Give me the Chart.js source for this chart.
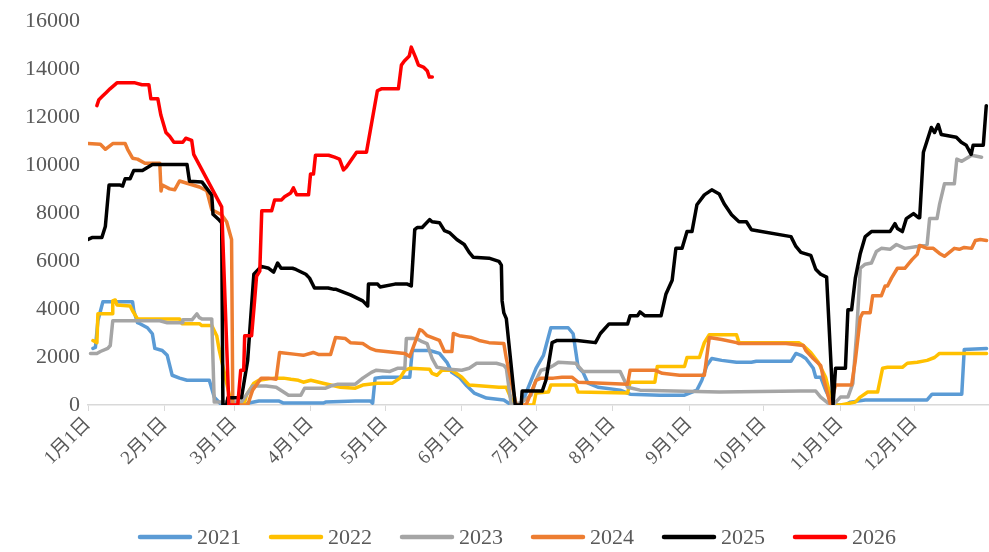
<!DOCTYPE html>
<html>
<head>
<meta charset="utf-8">
<script src="https://cdn.jsdelivr.net/npm/chart.js@4.4.1/dist/chart.umd.min.js"></script>
<style>
html,body{margin:0;padding:0;background:#fff;}
#wrap{width:989px;height:552px;position:relative;}
</style>
</head>
<body>
<div id="wrap"><canvas id="c" width="989" height="552"></canvas></div>
<script>
// x positions are day-of-year (0 = 1月1日)
const monthDays = [0,31,59,90,120,151,181,212,243,273,304,334];
const monthLabels = ["1月1日","2月1日","3月1日","4月1日","5月1日","6月1日","7月1日","8月1日","9月1日","10月1日","11月1日","12月1日"];
const yTicks = [0,2000,4000,6000,8000,10000,12000,14000,16000];
const seriesNames = ["2021","2022","2023","2024","2025","2026"];

const days2021 = [2,3,4,6,18,18.5,20,21,24,26,27,30,32,34,37,40,49,51,54,62,65,69,77,79,95,96,108,114,115,116,119,130,131,138,142,145,147,150,153,156,161,168,171,175,181,184,187,194,196,198,200,202,206,215,219,231,241,246,248,250,252,256,262,268,270,284,286,288,290,293,294,296,298,301,306,308,314,339,341,353,354,363];
const vals2021 = [2360,2400,3510,4300,4300,3930,3430,3390,3220,2970,2360,2270,2070,1240,1120,1030,1030,330,0,0,80,170,170,80,80,120,170,170,80,1120,1160,1160,2270,2270,2150,1780,1360,1160,800,500,290,210,0,0,1530,2070,3220,3220,2970,1570,1360,910,740,620,450,410,410,620,1030,1650,1940,1860,1780,1780,1820,1820,2150,2070,1940,1530,1160,1160,620,0,0,120,210,210,450,450,2310,2360];

const days2022 = [2,3.6,4,9.7,10,11,11.7,17,18,20,37,38,45,46,50,52,53,58,63,64,67,69,75,79,82,85,87,90,95,102,108,111,117,123,126,128,130,138,139,141,143,147,151,154,166,169,172,180,181,186,187,197,198,218,219,229,230,241,242,247,249,251,262,263,287,289,292,295,298,300,301,304,310,312,315,319,321,323,329,331,335,339,342,344,363];
const vals2022 = [2690,2600,3800,3800,4340,4380,4170,4130,3930,3590,3590,3390,3390,3310,3310,2890,2300,0,0,410,910,1030,1120,1120,1070,1030,950,1030,910,740,700,830,910,910,1120,1450,1530,1490,1320,1240,1450,1450,1160,830,740,740,0,0,500,540,830,830,540,500,950,950,1610,1610,1980,1980,2600,2930,2930,2600,2600,2480,2190,1780,1160,330,0,0,120,330,540,540,1530,1570,1570,1740,1780,1860,1980,2150,2150];

const days2023 = [1,3.6,5,8,9,10,29,32,38,38.3,42,44,45,46,50,51,62,64.5,66.5,72,76,79,81,86,87.5,96,98,101,108,111,114.5,116.5,122,125,128,128.6,132.7,135,137,139,141,146,151,154,157,165,168,169,171,175,179,181,183,186,188,190,197,200,215,218,223,255,288,294,296,299,301,304,307,309,310.5,312,314,316.5,318.5,320.5,324,326.6,330,335,339,340,343,344,346,350,351,353,357,361];
const vals2023 = [2150,2150,2230,2360,2480,3510,3510,3430,3430,3550,3550,3800,3640,3590,3590,120,120,500,790,790,740,540,410,410,700,700,790,870,870,1120,1360,1450,1400,1530,1530,2770,2770,2640,2560,1940,1570,1490,1450,1530,1740,1740,1650,1530,0,100,410,1030,1450,1530,1650,1780,1740,1400,1400,740,620,540,580,580,330,80,0,330,330,900,2970,5700,5870,5920,6400,6530,6490,6690,6530,6610,6690,7770,7770,8350,9220,9220,10250,10160,10410,10330];

const days2024 = [0,5,7,10,15,16,18,20,23,29,29.5,30,33,35,37,45,48,50,54,56,58,58.5,64.5,66.5,70,73,76,77.4,84,87,91,93,98,100,104,106,111,114,116.5,128,130,134,135,137,142,144,147,147.6,150,155,158,162,168,169,173,177,181,183,188,191.5,195.5,198,218,219,229,232,239,249,251,256,262,263,282,289,290,293,296,297,300,302,308.5,310,312,313,316,317,320.5,322,323,324.6,327,330,333,335,336,339,341.5,344,346,350,352,354,357,358.5,360.5,363];
const vals2024 = [10900,10870,10660,10900,10900,10660,10290,10250,10080,10080,8920,9170,9010,8970,9340,9090,8930,8140,7930,7640,6900,0,0,620,1120,1120,1070,2190,2110,2070,2190,2110,2110,2810,2770,2600,2560,2360,2270,2150,2020,3140,3100,2890,2690,2230,2230,2980,2890,2810,2690,2600,2560,1940,0,0,1030,1120,1120,1160,1160,950,870,1450,1450,1320,1240,1240,2810,2730,2600,2560,2560,2480,2270,1940,1650,1160,0,830,830,1860,3640,3850,3850,4550,4550,4960,4960,5290,5700,5700,6070,6280,6650,6530,6530,6320,6200,6530,6490,6570,6530,6860,6900,6860];

const days2025 = [0,1.6,5.6,7,8.5,13,14,15,17,18.5,22,26,40,41,46,50,50.5,53,54,54.5,56,56.5,62,64.5,67,70,73,75,76.6,78,82.6,84,88,89.5,91.5,97,99,100,106,111,113,113.3,117,118,124,129,130.6,132,133,135,138,139,142,144,146,149,152,154,155.6,162,166,167,167.3,168,169,172.6,175,175.4,183.5,185,187.5,189.5,197.6,205,207,210.5,218,219,222,223,225,231.5,233.5,236,237.5,240,242,244,246,249,252,255,257,260,263,266,268,284,286,288,292,294,296,298.4,301,302,306,307,308.5,310,312,314,316.5,324,326,327,329,330.6,333.5,335.5,336,337.5,340.7,342,343.5,344.7,350.8,352.8,354.8,356.8,357.6,361.7,362.9];
const vals2025 = [6900,6980,6980,7440,9170,9170,9130,9430,9430,9780,9780,10030,10030,9330,9300,8750,7950,7710,7600,0,0,300,300,1860,5450,5780,5700,5540,5920,5700,5700,5650,5450,5290,4880,4880,4830,4830,4590,4340,4130,5040,5040,4920,5040,5040,4960,7310,7400,7400,7730,7640,7600,7270,7190,6900,6690,6360,6160,6120,5990,5830,4340,3840,3600,0,0,580,580,1030,2600,2690,2690,2600,2980,3380,3380,3720,3720,3880,3720,3720,4630,5200,6530,6530,7230,7230,8350,8760,8970,8800,8390,7930,7640,7640,7310,7020,6610,6360,6240,5660,5450,5330,0,1530,1530,3970,3970,5290,6320,7020,7230,7230,7560,7360,7230,7770,7980,7810,7810,10540,11570,11360,11690,11280,11160,10950,10830,10450,10830,10830,12480];

const days2026 = [3.6,4.4,6,7.3,8.9,11.7,19,21.8,24.6,25.4,28.2,29.4,31.5,33,34.7,38.3,39.5,41.9,42.7,54,56.9,60.5,61.7,62.9,63.3,66.1,67.3,68.1,69.4,70.2,74.2,75.4,78.2,79.4,81.9,83,84.3,89.1,89.9,91.1,91.9,97.2,99.6,101.6,103.2,104.4,108.5,112.5,116.9,118.5,125.4,126.6,127.8,129.8,130.6,132.3,133.5,135.5,137.1,137.9,139.1];
const vals2026 = [12480,12730,12890,13020,13180,13430,13430,13350,13350,12770,12770,12100,11360,11200,10950,10950,11120,11030,10450,8260,0,0,1450,1450,2890,2890,4340,5370,5580,8100,8100,8550,8550,8680,8840,9050,8760,8760,9630,9630,10410,10410,10330,10250,9800,9920,10540,10540,13100,13180,13180,14170,14340,14550,14920,14500,14170,14090,13920,13670,13670];

const allDays = [days2021,days2022,days2023,days2024,days2025,days2026];
const allVals = [vals2021,vals2022,vals2023,vals2024,vals2025,vals2026];
const colors = ["#5B9BD5","#FFC000","#A5A5A5","#ED7D31","#000000","#FF0000"];

const datasets = seriesNames.map((name,k)=>({
  label: name,
  data: allDays[k].map((d,i)=>({x:d,y:allVals[k][i]})),
  borderColor: colors[k],
  backgroundColor: colors[k],
  borderWidth: 3.5,
  pointRadius: 0,
  tension: 0,
  fill: false,
  order: 5-k,
  borderJoinStyle: 'round',
  borderCapStyle: 'round'
}));

const serif = "'Liberation Serif','Noto Sans CJK SC',serif";

// Legend drawn from the chart's datasets (bottom row)
const bottomLegend = {
  id: 'bottomLegend',
  afterDraw(chart) {
    const ctx = chart.ctx;
    ctx.save();
    ctx.font = "22px " + serif;
    ctx.textBaseline = 'middle';
    ctx.textAlign = 'left';
    let x = 138;
    const y = 537;
    chart.data.datasets.forEach(ds => {
      ctx.strokeStyle = ds.borderColor;
      ctx.lineWidth = 4.5;
      ctx.lineCap = 'round';
      ctx.beginPath();
      ctx.moveTo(x + 2, y);
      ctx.lineTo(x + 52, y);
      ctx.stroke();
      ctx.fillStyle = '#595959';
      ctx.fillText(ds.label, x + 59, y + 1);
      x += 131;
    });
    ctx.restore();
  }
};

new Chart(document.getElementById('c'), {
  type: 'line',
  data: { datasets },
  plugins: [bottomLegend],
  options: {
    responsive: false,
    animation: false,
    layout: { padding: { top: 18, right: 0, left: 0, bottom: 42 } },
    plugins: {
      legend: { display: false },
      tooltip: { enabled: false }
    },
    scales: {
      x: {
        type: 'linear',
        min: 0,
        max: 364,
        afterBuildTicks: (s) => { s.ticks = monthDays.map(v => ({ value: v })); },
        afterFit: (s) => { s.height = 105; },
        ticks: {
          autoSkip: false,
          minRotation: 45,
          maxRotation: 45,
          padding: 2,
          color: '#595959',
          font: { family: serif, size: 19 },
          callback: (v) => { const i = monthDays.indexOf(v); return i >= 0 ? monthLabels[i] : ''; }
        },
        grid: { display: true, drawOnChartArea: false, drawTicks: true, tickLength: 6, color: '#d9d9d9', lineWidth: 1 },
        border: { display: true, color: '#d9d9d9', width: 1.5 }
      },
      y: {
        min: 0,
        max: 16000,
        afterBuildTicks: (s) => { s.ticks = yTicks.map(v => ({ value: v })); },
        afterFit: (s) => { s.width = 88; },
        ticks: {
          padding: 8,
          color: '#595959',
          font: { family: serif, size: 22 },
          callback: (v) => String(v)
        },
        grid: { display: false, drawTicks: false },
        border: { display: false }
      }
    }
  }
});
</script>
</body>
</html>
